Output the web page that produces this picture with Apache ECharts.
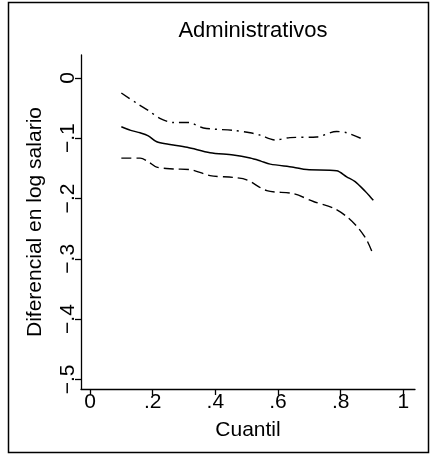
<!DOCTYPE html>
<html><head><meta charset="utf-8">
<script src="https://cdn.jsdelivr.net/npm/echarts@6/dist/echarts.min.js"></script>
<style>html,body{margin:0;padding:0;background:#fff}#c{width:430px;height:455px}</style>
</head><body><div id="c"></div>
<script>
const title = "Administrativos";
const xName = "Cuantil";
const yName = "Diferencial en log salario";
const xTicks = [0, 0.2, 0.4, 0.6, 0.8, 1];
const yTicks = [0, -0.1, -0.2, -0.3, -0.4, -0.5];

const estQ = [0.10,0.13,0.16,0.186,0.213,0.25,0.31,0.383,0.457,0.511,0.545,0.575,0.649,0.692,0.787,0.819,0.846,0.878,0.894,0.904];
const estV = [-0.081,-0.087,-0.091,-0.096,-0.106,-0.110,-0.115,-0.124,-0.128,-0.133,-0.138,-0.143,-0.148,-0.152,-0.154,-0.164,-0.172,-0.188,-0.197,-0.203];

const upQ = [0.10,0.149,0.186,0.223,0.266,0.314,0.362,0.457,0.511,0.543,0.59,0.638,0.723,0.787,0.819,0.872];
const upV = [-0.025,-0.042,-0.054,-0.067,-0.074,-0.074,-0.083,-0.087,-0.091,-0.095,-0.103,-0.099,-0.098,-0.089,-0.091,-0.102];

const loQ = [0.10,0.16,0.186,0.213,0.266,0.319,0.383,0.457,0.50,0.564,0.649,0.713,0.777,0.819,0.856,0.883,0.902];
const loV = [-0.133,-0.133,-0.139,-0.148,-0.151,-0.152,-0.162,-0.165,-0.169,-0.187,-0.192,-0.205,-0.216,-0.230,-0.249,-0.269,-0.291];

const pairs = (q, v) => q.map((x, i) => [x, v[i]]);
const fmt = v => {
  if (Math.abs(v) < 1e-9) return '0';
  if (Math.abs(v - 1) < 1e-9) return '1';
  let s = Math.abs(v).toFixed(1).replace(/^0/, '');
  return (v < 0 ? '\u2212' : '') + s;
};
const font = 'Liberation Sans, Arial, Helvetica, sans-serif';
const chart = echarts.init(document.getElementById('c'), null, {renderer: 'canvas'});
chart.setOption({
  animation: false,
  backgroundColor: '#fff',
  title: {text: title, left: 248, textAlign: 'center', top: 15,
    textStyle: {fontFamily: font, fontSize: 22, fontWeight: 'normal', color: '#000'}},
  graphic: [{type: 'rect', shape: {x: 8.5, y: 2.5, width: 420, height: 450},
    style: {fill: 'none', stroke: '#000', lineWidth: 1.5}, silent: true}],
  grid: {left: 81, top: 55, right: 15, bottom: 66},
  xAxis: {type: 'value', min: -0.0287, max: 1.037,
    name: xName, nameLocation: 'middle', nameGap: 31,
    nameTextStyle: {fontFamily: font, fontSize: 21, color: '#000'},
    axisLine: {show: true, onZero: false, lineStyle: {color: '#000', width: 1.3}},
    axisTick: {show: true, length: 6, customValues: xTicks, lineStyle: {color: '#000', width: 1.3}},
    axisLabel: {customValues: xTicks, formatter: fmt, margin: 3, fontFamily: font, fontSize: 21, color: '#000'},
    splitLine: {show: false}},
  yAxis: {type: 'value', min: -0.516, max: 0.038,
    name: yName, nameLocation: 'middle', nameGap: 35, nameRotate: 90,
    nameTextStyle: {fontFamily: font, fontSize: 21, color: '#000'},
    axisLine: {show: true, onZero: false, lineStyle: {color: '#000', width: 1.3}},
    axisTick: {show: true, length: 6, customValues: yTicks, lineStyle: {color: '#000', width: 1.3}},
    axisLabel: {customValues: yTicks, formatter: fmt, rotate: 90, margin: 2, fontFamily: font, fontSize: 21, color: '#000'},
    splitLine: {show: false}},
  series: [
    {type: 'line', data: pairs(estQ, estV), showSymbol: false, smooth: 0.3,
      lineStyle: {color: '#000', width: 1.5, type: 'solid'}},
    {type: 'line', data: pairs(upQ, upV), showSymbol: false, smooth: 0.3,
      lineStyle: {color: '#000', width: 1.4, type: [10, 5, 2, 5]}},
    {type: 'line', data: pairs(loQ, loV), showSymbol: false, smooth: 0.3,
      lineStyle: {color: '#000', width: 1.4, type: [10, 5]}}
  ]
});
</script></body></html>
